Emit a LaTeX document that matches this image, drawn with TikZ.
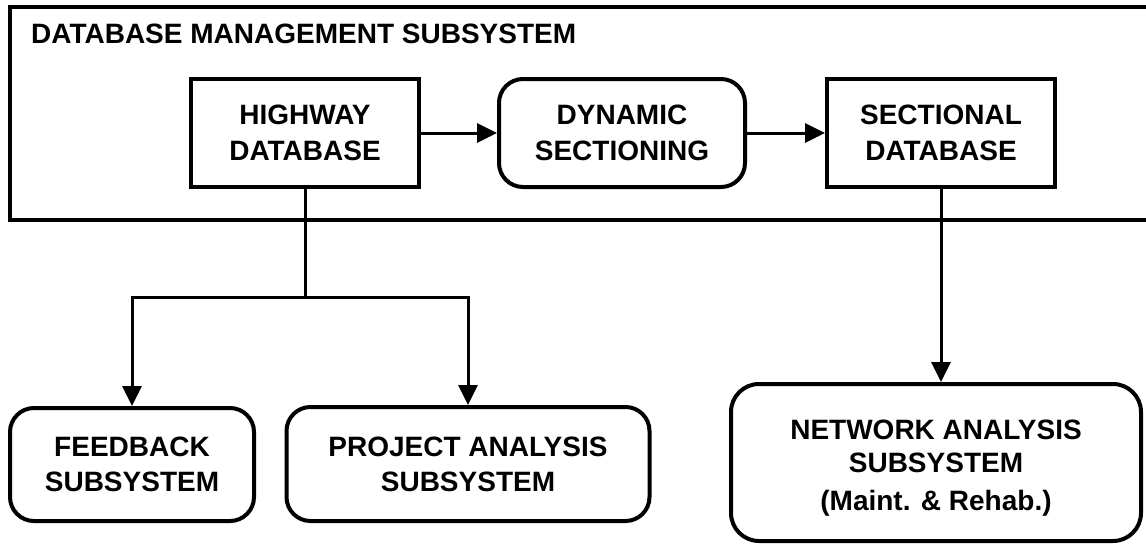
\documentclass[tikz,border=0pt]{standalone}
\usepackage{fontspec}
\setmainfont{Liberation Sans}
\usetikzlibrary{arrows.meta}
\begin{document}
\begin{tikzpicture}[x=1pt,y=-1pt,
  box/.style={draw, line width=4pt, inner sep=0pt, align=center,
    font=\bfseries\fontsize{28}{36}\selectfont},
  rbox/.style={box, rounded corners=24pt},
  ln/.style={line width=3pt},
  arr/.style={line width=3pt, -{Triangle[length=20pt,width=19pt]}},
  ttl/.style={font=\bfseries\fontsize{28}{34}\selectfont, inner sep=0pt}]
\useasboundingbox (0,0) rectangle (1146,546);
% outer frame (open to the right)
\draw[line width=4pt] (1152,7) -- (10,7) -- (10,220) -- (1152,220);
\node[ttl, anchor=base west] (title) at (31,43) {DATABASE MANAGEMENT SUBSYSTEM};
% boxes
\node[box, minimum width=228pt, minimum height=108pt] (hw) at (305,133) {HIGHWAY\\DATABASE};
\node[rbox, minimum width=246pt, minimum height=108pt] (dyn) at (622,133) {DYNAMIC\\SECTIONING};
\node[box, minimum width=228pt, minimum height=108pt] (sec) at (941,133) {SECTIONAL\\DATABASE};
\node[rbox, minimum width=244pt, minimum height=113pt] (fb) at (132,464.5) {FEEDBACK\\[-1pt]SUBSYSTEM};
\node[rbox, minimum width=363pt, minimum height=114pt] (pa) at (468,464) {PROJECT ANALYSIS\\[-1pt]SUBSYSTEM};
\node[rbox, rounded corners=28pt, minimum width=410pt, minimum height=157pt] (na) at (936,462.5) {\rule{0pt}{30pt}NETWORK ANALYSIS\\[-3pt]SUBSYSTEM\\[2pt](Maint. \& Rehab.)};
% connectors
\coordinate (j) at (305,297);
\draw[arr] (hw.east) -- (dyn.west);
\draw[arr] (dyn.east) -- (sec.west);
\draw[ln] (hw.south) -- (j);
\draw[arr] (j) -| (fb.north);
\draw[arr] (j) -| (pa.north);
\draw[arr] (sec.south) -- (sec.south |- na.north);
\end{tikzpicture}
\end{document}
